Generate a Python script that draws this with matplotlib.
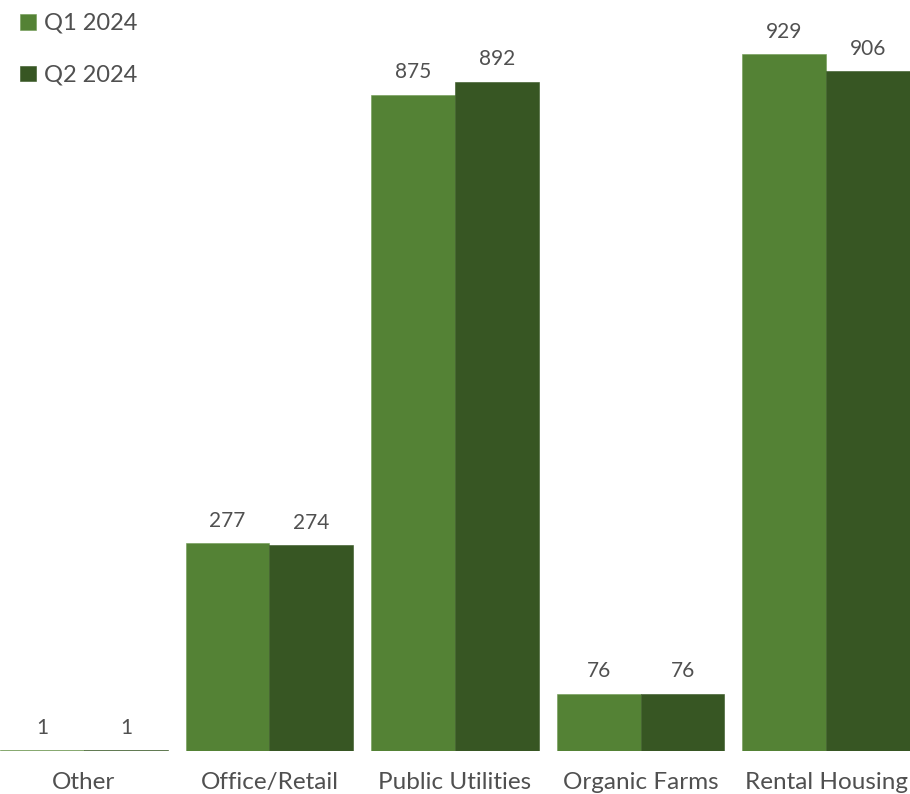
import matplotlib
matplotlib.use("Agg")
import matplotlib.pyplot as plt
import numpy as np

categories = ["Other", "Office/Retail", "Public Utilities", "Organic Farms", "Rental Housing"]
series_names = ["Q1 2024", "Q2 2024"]
q1_values = [1, 277, 875, 76, 929]
q2_values = [1, 274, 892, 76, 906]
colors = ["#548235", "#375623"]
text_color = "#505050"

plt.rcParams["font.family"] = ["Lato", "DejaVu Sans"]

fig = plt.figure(figsize=(9.10, 7.94), dpi=100)
ax = fig.add_axes([0, 43 / 794, 1, 751 / 794])

x = np.arange(len(categories))
w = 0.4525
for i, (vals, name) in enumerate(zip([q1_values, q2_values], series_names)):
    bars = ax.bar(x + (i - 0.5) * w, vals, width=w, color=colors[i], label=name,
                  edgecolor="#6f9a52" if i == 0 else colors[i], linewidth=0.4)
    for b, v in zip(bars, vals):
        ax.annotate(str(v), (b.get_x() + b.get_width() / 2, b.get_height()),
                    xytext=(0, 9), textcoords="offset points",
                    ha="center", va="bottom", fontsize=15, color=text_color)

ax.set_xlim(-w, len(categories) - 1 + w)
ax.set_ylim(0, 1001)
ax.set_xticks(x)
ax.set_xticklabels(categories, fontsize=17.5, color=text_color)
ax.tick_params(axis="x", length=0, pad=15)
ax.set_yticks([])
for s in ax.spines.values():
    s.set_visible(False)

leg = ax.legend(loc="upper left", bbox_to_anchor=(0.008, 1.0), frameon=False,
                handlelength=0.65, handleheight=0.65, handletextpad=0.35,
                labelspacing=1.3, fontsize=17, borderaxespad=0.15)
for t in leg.get_texts():
    t.set_color(text_color)

fig.savefig("out.png", dpi=100)
